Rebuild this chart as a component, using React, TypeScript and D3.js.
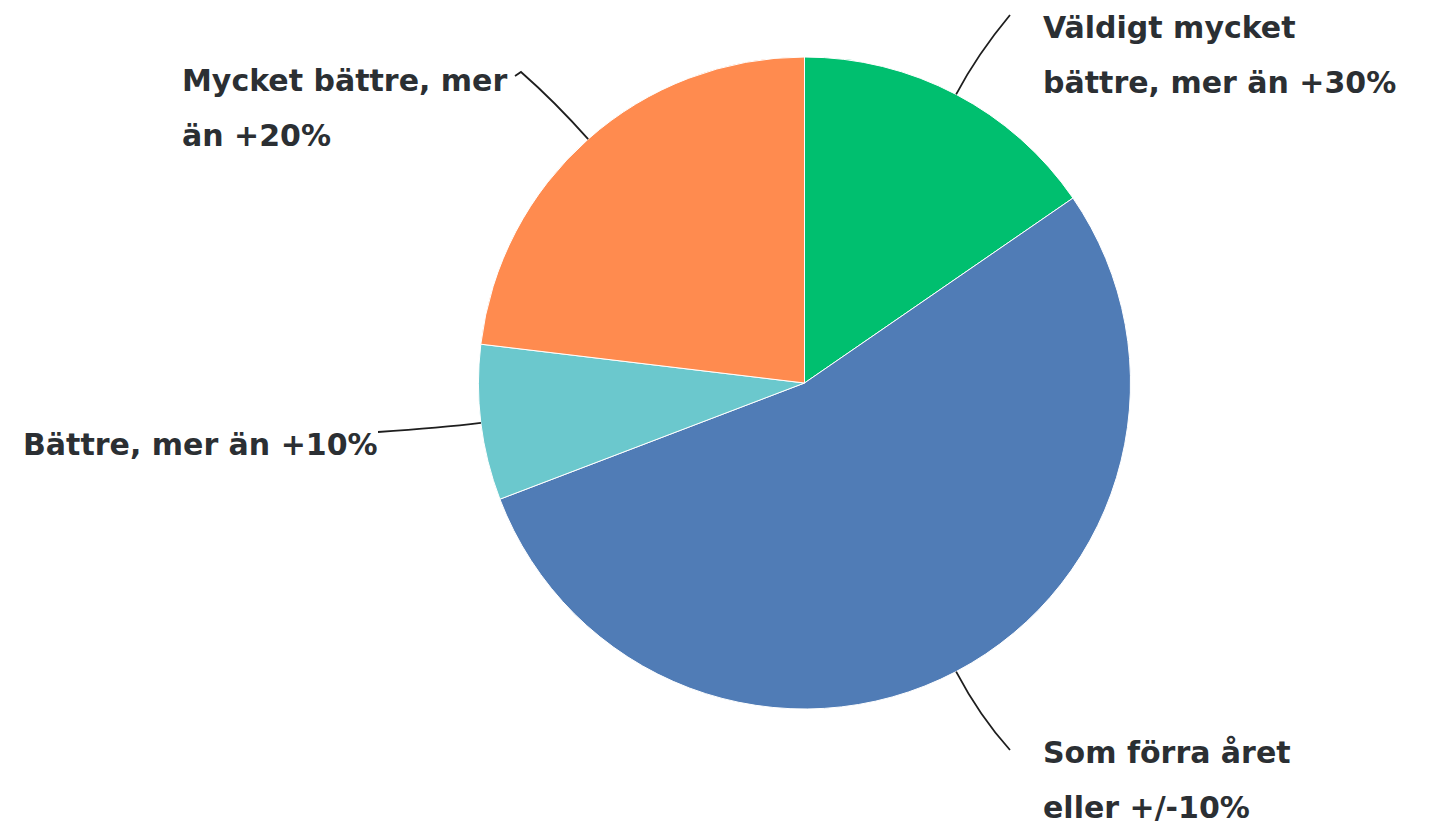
import React from "react";
import * as d3 from "d3";

const categories = [
  "Väldigt mycket bättre, mer än +30%",
  "Som förra året eller +/-10%",
  "Bättre, mer än +10%",
  "Mycket bättre, mer än +20%",
];
const values = [15.4, 53.8, 7.7, 23.1];
const colors = ["#00BF6F", "#507CB6", "#6BC8CD", "#FF8B4F"];
const labelLines = [
  ["Väldigt mycket", "bättre, mer än +30%"],
  ["Som förra året", "eller +/-10%"],
  ["Bättre, mer än +10%"],
  ["Mycket bättre, mer", "än +20%"],
];

const W = 1432;
const H = 835;
const cx = 804.5;
const cy = 383;
const R = 326;

// label layout: anchor x, first baseline y, leader end point, hook
const labelLayout = [
  { x: 1043, y: 38, end: [1010, 15], ctrl: 45, hook: null },
  { x: 1043, y: 763, end: [1010, 750], ctrl: 50, hook: null },
  { x: 23, y: 455, end: [378, 432], ctrl: 40, hook: null },
  { x: 182, y: 91, end: [521, 72], ctrl: 50, hook: [515, 76] },
];

export default function App() {
  const pie = d3
    .pie<number>()
    .sort(null)
    .value((d) => d);
  const arcs = pie(values);
  const arc = d3.arc<d3.PieArcDatum<number>>().innerRadius(0).outerRadius(R);

  return (
    <svg
      width={W}
      height={H}
      style={{ position: "absolute", left: 0, top: 0, background: "#fff" }}
    >
      <g transform={`translate(${cx},${cy})`}>
        {arcs.map((a, i) => (
          <path
            key={categories[i]}
            d={arc(a) || ""}
            fill={colors[i]}
            stroke="#fff"
            strokeWidth={1}
          />
        ))}
      </g>
      {arcs.map((a, i) => {
        const mid = (a.startAngle + a.endAngle) / 2;
        const dx = Math.sin(mid);
        const dy = -Math.cos(mid);
        const sx = cx + R * dx;
        const sy = cy + R * dy;
        const L = labelLayout[i];
        const qx = sx + L.ctrl * dx;
        const qy = sy + L.ctrl * dy;
        const p = d3.path();
        p.moveTo(sx, sy);
        p.quadraticCurveTo(qx, qy, L.end[0], L.end[1]);
        if (L.hook) p.lineTo(L.hook[0], L.hook[1]);
        return (
          <path
            key={"l" + i}
            d={p.toString()}
            fill="none"
            stroke="#1e1e1e"
            strokeWidth={1.8}
          />
        );
      })}
      {labelLines.map((lines, i) => (
        <text
          key={"t" + i}
          x={labelLayout[i].x}
          y={labelLayout[i].y}
          fontFamily="'DejaVu Sans', sans-serif"
          fontWeight={700}
          fontSize={30}
          fill="#2b2f33"
        >
          {lines.map((ln, j) => (
            <tspan key={j} x={labelLayout[i].x} dy={j === 0 ? 0 : 55}>
              {ln}
            </tspan>
          ))}
        </text>
      ))}
    </svg>
  );
}
